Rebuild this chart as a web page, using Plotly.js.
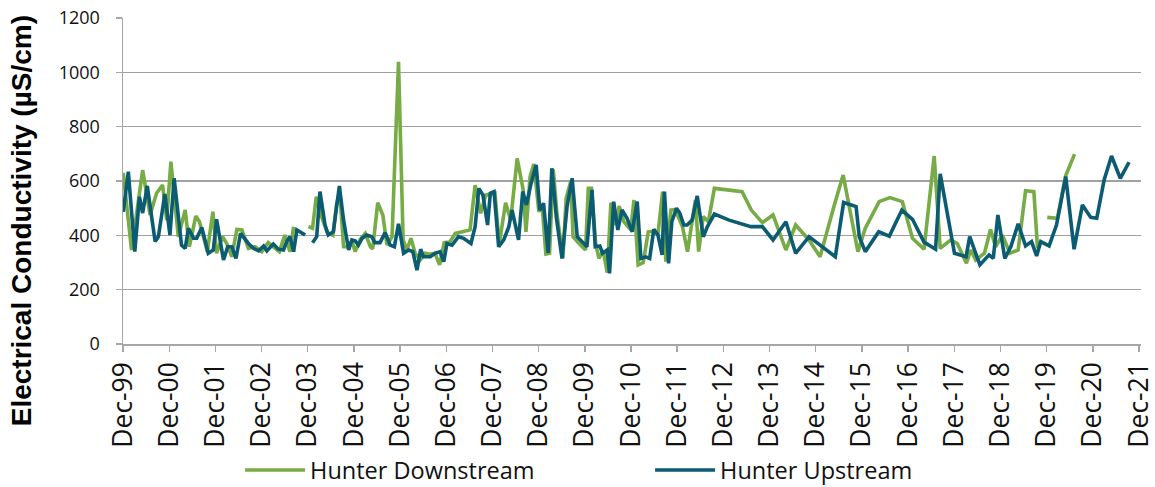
<!DOCTYPE html>
<html>
<head>
<meta charset="utf-8">
<script src="https://cdn.plot.ly/plotly-3.0.1.min.js"></script>
<style>html,body{margin:0;padding:0;background:#fff;}#chart{width:1155px;height:487px;}</style>
</head>
<body>
<div id="chart"></div>
<script>
// Sampling times as decimal years, values in µS/cm (null = gap in record)
var downstreamYear = [1999.92,2000.10,2000.34,2000.50,2000.64,2000.77,2000.86,2000.95,2001.11,2001.26,
2001.35,2001.49,2001.57,2001.74,2001.86,2001.94,2002.07,2002.16,2002.27,2002.38,
2002.49,2002.63,2002.77,2002.92,2003.06,2003.17,2003.30,2003.42,2003.53,2003.61,
2003.75,2003.93,2004.02,2004.10,2004.21,2004.34,2004.46,2004.54,2004.61,2004.69,
2004.80,2004.87,2004.94,2005.05,2005.16,2005.27,2005.32,2005.43,2005.54,2005.63,
2005.74,2005.88,2005.98,2006.06,2006.15,2006.24,2006.35,2006.46,2006.56,2006.67,
2006.77,2006.87,2006.99,2007.11,2007.28,2007.43,2007.54,2007.66,2007.77,2007.86,
2007.97,2008.06,2008.20,2008.31,2008.45,2008.58,2008.64,2008.73,2008.81,2008.92,
2008.99,2009.07,2009.15,2009.23,2009.31,2009.44,2009.51,2009.61,2009.66,2009.79,
2009.93,2009.99,2010.06,2010.15,2010.22,2010.31,2010.40,2010.48,2010.58,2010.66,
2010.76,2010.91,2010.98,2011.07,2011.18,2011.29,2011.39,2011.50,2011.60,2011.67,
2011.78,2011.87,2011.96,2012.03,2012.14,2012.31,2012.38,2012.48,2012.59,2012.72,
2013.32,2013.52,2013.76,2013.99,2014.27,2014.48,2014.77,2015.01,2015.31,2015.51,
2015.83,2015.99,2016.29,2016.52,2016.79,2017.01,2017.26,2017.48,2017.61,2017.84,
2017.98,2018.18,2018.27,2018.38,2018.57,2018.70,2018.81,2018.96,2019.12,2019.30,
2019.46,2019.64,2019.72,2019.82,2019.93,2020.15,2020.33,2020.52];
var downstreamEC = [630,346,640,475,555,585,456,671,395,493,
358,471,450,340,487,334,395,370,321,422,
420,352,358,340,373,358,340,401,340,432,
null,432,426,542,470,410,400,518,556,358,
358,380,340,385,407,358,350,520,475,364,
395,1039,383,346,389,334,309,334,330,334,
291,373,375,407,415,420,585,481,548,550,
555,365,520,456,683,567,413,616,663,487,
510,331,334,643,480,315,536,598,395,370,
346,573,573,370,315,345,263,520,438,508,
450,420,530,291,300,413,415,405,561,303,
493,495,460,432,340,530,340,469,450,573,
561,493,447,475,346,438,383,321,506,622,
340,426,524,539,524,389,349,692,352,383,
370,297,346,309,334,422,358,401,334,346,
564,561,352,null,466,463,620,699];

var upstreamYear = [1999.92,2000.03,2000.17,2000.27,2000.34,2000.44,2000.61,2000.68,2000.82,2000.93,
2001.02,2001.18,2001.26,2001.33,2001.44,2001.51,2001.62,2001.76,2001.87,2001.94,
2002.09,2002.18,2002.27,2002.36,2002.46,2002.63,2002.74,2002.85,2002.96,2003.03,
2003.17,2003.28,2003.39,2003.46,2003.53,2003.61,2003.68,2003.86,2003.94,2004.02,
2004.11,2004.18,2004.29,2004.36,2004.47,2004.53,2004.60,2004.69,2004.80,2004.87,
2004.94,2005.01,2005.09,2005.19,2005.30,2005.37,2005.48,2005.59,2005.70,2005.79,
2005.88,2005.99,2006.10,2006.19,2006.28,2006.36,2006.42,2006.57,2006.67,2006.78,
2006.86,2006.93,2007.04,2007.18,2007.29,2007.45,2007.54,2007.62,2007.71,2007.81,
2007.87,2007.95,2008.05,2008.16,2008.27,2008.34,2008.48,2008.57,2008.65,2008.75,
2008.86,2008.94,2009.02,2009.12,2009.20,2009.30,2009.42,2009.53,2009.64,2009.75,
2009.85,2009.96,2010.07,2010.14,2010.24,2010.30,2010.40,2010.45,2010.54,2010.63,
2010.72,2010.83,2010.94,2011.05,2011.13,2011.23,2011.32,2011.41,2011.50,2011.59,
2011.64,2011.73,2011.80,2011.90,2011.97,2012.06,2012.13,2012.24,2012.35,2012.48,
2012.57,2012.72,2013.04,2013.37,2013.51,2013.76,2013.99,2014.27,2014.48,2014.77,
2015.06,2015.34,2015.52,2015.79,2015.86,2015.99,2016.28,2016.51,2016.78,2017.01,
2017.26,2017.51,2017.61,2017.92,2018.17,2018.25,2018.47,2018.67,2018.76,2018.86,
2019.01,2019.14,2019.30,2019.46,2019.59,2019.70,2019.79,2019.97,2020.13,2020.33,
2020.51,2020.69,2020.87,2021.00,2021.16,2021.32,2021.51,2021.70];
var upstreamEC = [487,634,340,542,482,582,377,395,552,401,
610,364,352,426,389,389,429,334,346,459,
309,358,358,315,407,370,352,343,361,343,
368,349,346,377,395,340,420,401,null,373,
395,561,438,401,413,493,582,456,346,383,
380,364,389,401,395,373,373,410,364,358,
442,334,346,340,272,349,321,321,334,340,
303,370,364,395,389,370,432,573,548,438,
555,561,358,383,432,493,383,561,512,591,
659,493,518,335,647,463,315,506,610,395,
377,358,567,358,361,334,346,260,524,420,
493,463,413,524,315,321,315,422,401,328,
561,297,450,499,483,438,438,456,545,395,
432,478,456,439,432,432,383,450,334,395,
358,321,521,506,395,340,413,397,493,459,
375,349,626,334,321,395,291,328,315,475,
315,358,442,361,377,324,377,361,438,616,
349,512,466,463,604,692,610,669];

var seriesNames = ["Hunter Downstream", "Hunter Upstream"];
var yTitle = "Electrical Conductivity (\u00b5S/cm)";
var tickYears = [1999,2000,2001,2002,2003,2004,2005,2006,2007,2008,2009,2010,
                 2011,2012,2013,2014,2015,2016,2017,2018,2019,2020,2021];

function toDate(y) {
  var yr = Math.floor(y);
  var start = Date.UTC(yr, 0, 1), end = Date.UTC(yr + 1, 0, 1);
  var d = new Date(start + (y - yr) * (end - start));
  return d.toISOString().slice(0, 19).replace('T', ' ');
}

var tickVals = tickYears.map(function (y) { return y + '-12-01'; });
var tickText = tickYears.map(function (y) { return 'Dec-' + String(y % 100).padStart(2, '0'); });

var traces = [
  {x: downstreamYear.map(toDate), y: downstreamEC, name: seriesNames[0], type: 'scatter', mode: 'lines',
   connectgaps: false, line: {color: '#77AB45', width: 3.6}},
  {x: upstreamYear.map(toDate), y: upstreamEC, name: seriesNames[1], type: 'scatter', mode: 'lines',
   connectgaps: false, line: {color: '#0B5B73', width: 3.6}}
];

var layout = {
  width: 1155, height: 487,
  margin: {l: 123, r: 14, t: 18, b: 143, autoexpand: false},
  paper_bgcolor: '#fff', plot_bgcolor: '#fff',
  showlegend: true,
  font: {family: 'Open Sans, sans-serif', color: '#111'},
  xaxis: {
    type: 'date', range: ['1999-12-01', '2021-12-17'], automargin: false,
    tickmode: 'array', tickvals: tickVals, ticktext: tickText,
    tickangle: -90, tickfont: {size: 26.5, color: '#111'}, ticklabeloverflow: 'allow',
    showgrid: false, zeroline: false, showline: true, linecolor: '#A6A6A6', linewidth: 1.5,
    ticks: 'outside', ticklen: 6, tickcolor: '#A6A6A6', tickwidth: 1.5,
    fixedrange: true
  },
  yaxis: {
    range: [0, 1200], dtick: 200, tick0: 0, automargin: false,
    tickfont: {size: 18, color: '#111'},
    showgrid: true, gridcolor: '#A0A0A0', gridwidth: 1.5,
    zeroline: false, showline: true, linecolor: '#A6A6A6', linewidth: 1.5,
    ticks: 'outside', ticklen: 6, tickcolor: '#A6A6A6', tickwidth: 1.5,
    ticklabelstandoff: 12,
    fixedrange: true
  },
  annotations: [{
    text: yTitle, textangle: -90, showarrow: false,
    xref: 'paper', yref: 'paper', x: -0.1, y: 0.377, xanchor: 'center', yanchor: 'middle',
    font: {family: 'Liberation Sans, Arial, sans-serif', size: 28, color: '#000', weight: 'bold'}
  }],
  legend: {
    orientation: 'h', x: 0.115, xanchor: 'left', y: -0.387, yanchor: 'middle',
    font: {size: 23.5, color: '#111'}, itemwidth: 60, entrywidth: 335, entrywidthmode: 'pixels',
    bgcolor: 'rgba(0,0,0,0)'
  }
};

Plotly.newPlot('chart', traces, layout, {displayModeBar: false, staticPlot: true});
</script>
</body>
</html>
